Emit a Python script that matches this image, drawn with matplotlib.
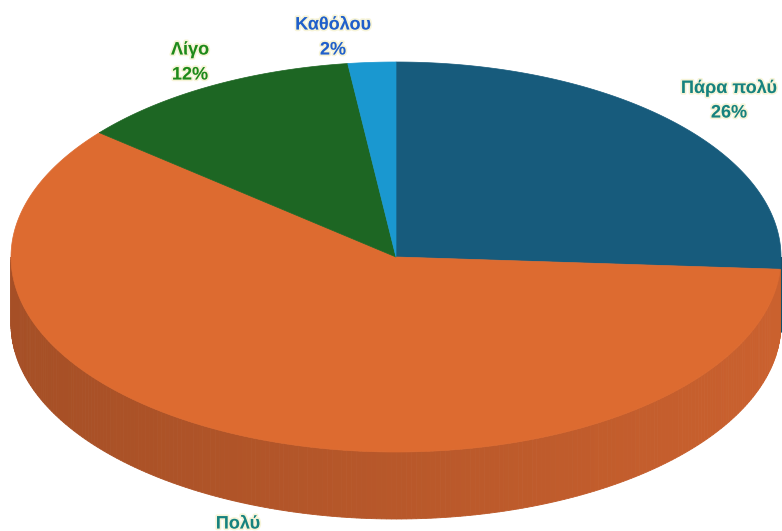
import numpy as np
import matplotlib.pyplot as plt
from matplotlib.patches import Polygon
import matplotlib.patheffects as pe

# data
labels = ['Πάρα πολύ', 'Πολύ', 'Λίγο', 'Καθόλου']
values = [26, 60, 12, 2]
top_colors = ['#175B7C', '#DD6B30', '#1D6623', '#1A98D0']
side_colors = ['#114860', '#B8582A', '#164F1B', '#1479A6']
label_colors = ['#16827F', '#16827F', '#1E8A1A', '#1F5FCB']

# geometry of the 3d pie (pixels)
cx, cy = 396, 257
a, b = 385, 195
depth = 67

fig = plt.figure(figsize=(7.82, 5.31), dpi=100)
ax = fig.add_axes([0, 0, 1, 1])
ax.set_xlim(0, 782)
ax.set_ylim(531, 0)
ax.axis('off')

fracs = np.array(values) / np.sum(values)
starts = np.concatenate([[0], np.cumsum(fracs)[:-1]]) * 2 * np.pi
ends = np.cumsum(fracs) * 2 * np.pi


def ell(t, dy=0):
    return cx + a * np.sin(t), cy - b * np.cos(t) + dy


# side walls, only the front half (pi/2 .. 3pi/2)
for i in range(len(values)):
    t1 = max(starts[i], np.pi / 2)
    t2 = min(ends[i], 3 * np.pi / 2)
    if t2 <= t1:
        continue
    ts = np.linspace(t1, t2, 240)
    base = np.array(plt.matplotlib.colors.to_rgb(side_colors[i]))
    for j in range(len(ts) - 1):
        xa, ya = ell(ts[j])
        xb, yb = ell(ts[j + 1])
        # shade: darker at left, a bit lighter to the right
        xm = (xa + xb) / 2
        k = 0.9 + 0.2 * (xm - (cx - a)) / (2 * a)
        col = np.clip(base * k, 0, 1)
        ax.add_patch(Polygon([[xa, ya], [xb, yb], [xb, yb + depth], [xa, ya + depth]],
                             closed=True, facecolor=col, edgecolor=col, lw=0.6))

# top faces
for i in range(len(values)):
    ts = np.linspace(starts[i], ends[i], 300)
    xs, ys = ell(ts)
    pts = np.column_stack([np.r_[cx, xs], np.r_[cy, ys]])
    ax.add_patch(Polygon(pts, closed=True, facecolor=top_colors[i],
                         edgecolor=top_colors[i], lw=0.5))

# labels (name on first line, percent below)
label_pos = [(729, 88), (238, 524), (190, 50), (333, 25)]
halo = [pe.withStroke(linewidth=2.5, foreground='#F4F0C8', alpha=0.7)]
for i in range(len(values)):
    x, y = label_pos[i]
    for k, s in enumerate([labels[i], f'{values[i]}%']):
        ax.text(x, y + 25 * k, s, ha='center', va='center',
                fontsize=13, fontweight='bold', family='Liberation Sans',
                color=label_colors[i], path_effects=halo, clip_on=False)

fig.savefig('out.png', dpi=100)
